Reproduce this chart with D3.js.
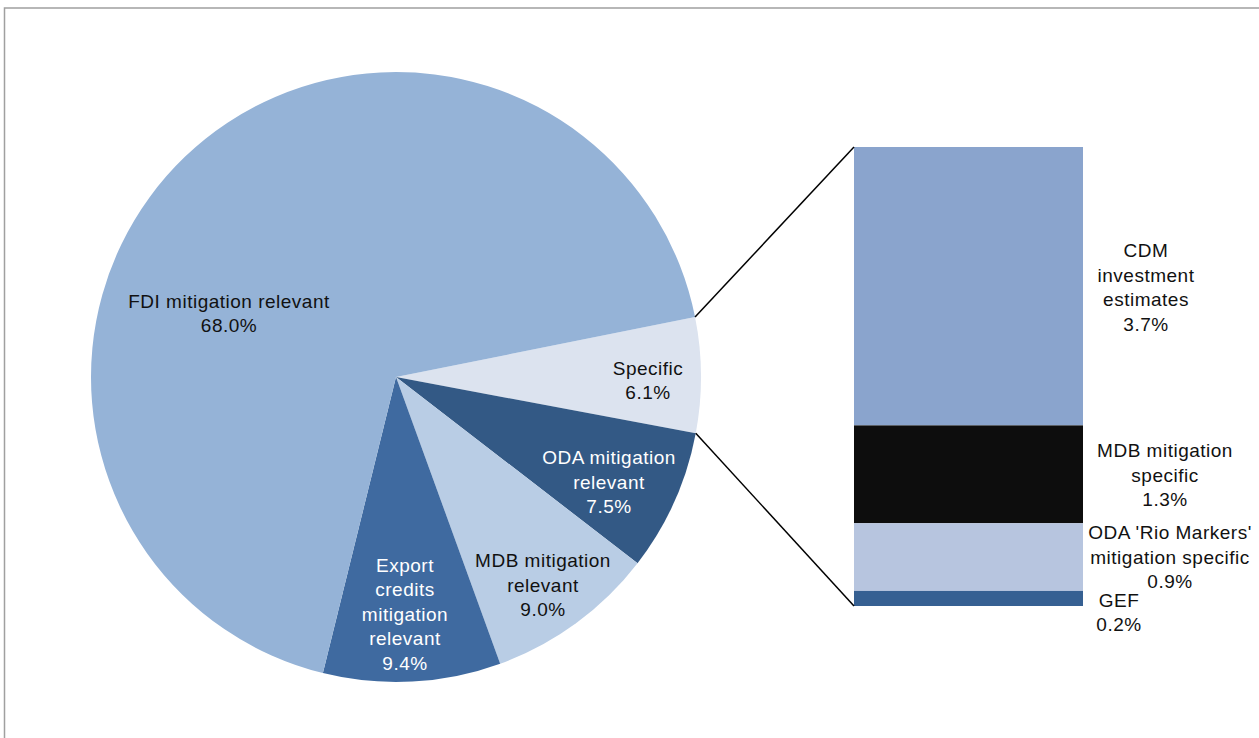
<!DOCTYPE html>
<html><head><meta charset="utf-8">
<script src="https://cdn.jsdelivr.net/npm/d3@7"></script>
<style>body{margin:0;background:#fff}svg{display:block}text{font-family:"Liberation Sans",Arial,sans-serif;font-size:19px;letter-spacing:0.5px}</style>
</head><body>
<svg id="c" width="1259" height="738"></svg>
<script>
const pieCategories = ["Specific","ODA mitigation relevant","MDB mitigation relevant","Export credits mitigation relevant","FDI mitigation relevant"];
const pieValues = [6.1, 7.5, 9.0, 9.4, 68.0];
const pieLabels = [["Specific","6.1%"],["ODA mitigation","relevant","7.5%"],["MDB mitigation","relevant","9.0%"],["Export","credits","mitigation","relevant","9.4%"],["FDI mitigation relevant","68.0%"]];
const pieColors = ["#dce3ef","#335985","#b9cde5","#3f6aa0","#95b3d7"];
const pieTextColors = ["#111","#fff","#111","#fff","#111"];

const barCategories = ["CDM investment estimates","MDB mitigation specific","ODA 'Rio Markers' mitigation specific","GEF"];
const barValues = [3.7, 1.3, 0.9, 0.2];
const barLabels = [["CDM","investment","estimates","3.7%"],["MDB mitigation","specific","1.3%"],["ODA 'Rio Markers'","mitigation specific","0.9%"],["GEF","0.2%"]];
const barColors = ["#8aa4cd","#0d0d0d","#b7c5df","#366092"];

const svg = d3.select("#c");
// frame
svg.append("path").attr("d","M4.5,760 L4.5,8 L1280,8").attr("fill","none").attr("stroke","#a0a0a0").attr("stroke-width",1.5);

const cx = 396, cy = 377, r = 305;
const startA = 1.373;
const pie = d3.pie().sort(null).startAngle(startA).endAngle(startA + 2*Math.PI);
const arcs = pie(pieValues);
const arc = d3.arc().innerRadius(0).outerRadius(r);
const g = svg.append("g").attr("transform",`translate(${cx},${cy})`);
g.selectAll("path.s").data(arcs).join("path").attr("class","s")
  .attr("d",arc).attr("fill",(d,i)=>pieColors[i]);

// label anchor (center of label block), in page coords
const pieLabelPos = [[648,380],[609,482],[543,585],[405,614],[229,313]];
const lineH = 24.6;
function drawLabel(parent, lines, x, yc, color){
  const t = parent.append("text").attr("text-anchor","middle").attr("fill",color);
  lines.forEach((l,k)=>{
    t.append("tspan").attr("x",x).attr("y", yc + (k-(lines.length-1)/2)*lineH + 6.8).text(l);
  });
}
arcs.forEach((d,i)=>{
  drawLabel(svg, pieLabels[i], pieLabelPos[i][0], pieLabelPos[i][1], pieTextColors[i]);
});

// bar
const bx0 = 854, bx1 = 1083, byTop = 147, byBot = 606;
const total = d3.sum(barValues);
const y = d3.scaleLinear().domain([0,total]).range([byTop, byBot]);
let cum = 0;
const stack = barValues.map(v=>{const o={y0:cum,y1:cum+v}; cum+=v; return o;});
svg.selectAll("rect.b").data(stack).join("rect").attr("class","b")
  .attr("x",bx0).attr("width",bx1-bx0)
  .attr("y",d=>y(d.y0)).attr("height",d=>y(d.y1)-y(d.y0))
  .attr("fill",(d,i)=>barColors[i]);

// connector lines from Specific slice edges
const sp = arcs[0];
const p1 = [cx + Math.sin(sp.startAngle)*r, cy - Math.cos(sp.startAngle)*r];
const p2 = [cx + Math.sin(sp.endAngle)*r, cy - Math.cos(sp.endAngle)*r];
svg.append("line").attr("x1",p1[0]).attr("y1",p1[1]).attr("x2",bx0).attr("y2",byTop).attr("stroke","#000").attr("stroke-width",1.5);
svg.append("line").attr("x1",p2[0]).attr("y1",p2[1]).attr("x2",bx0).attr("y2",byBot).attr("stroke","#000").attr("stroke-width",1.5);

// bar labels
const barLabelPos = [[1146,287],[1165,475],[1170,557],[1119,612]];
barLabels.forEach((lines,i)=>{
  drawLabel(svg, lines, barLabelPos[i][0], barLabelPos[i][1], "#111");
});
</script>
</body></html>
